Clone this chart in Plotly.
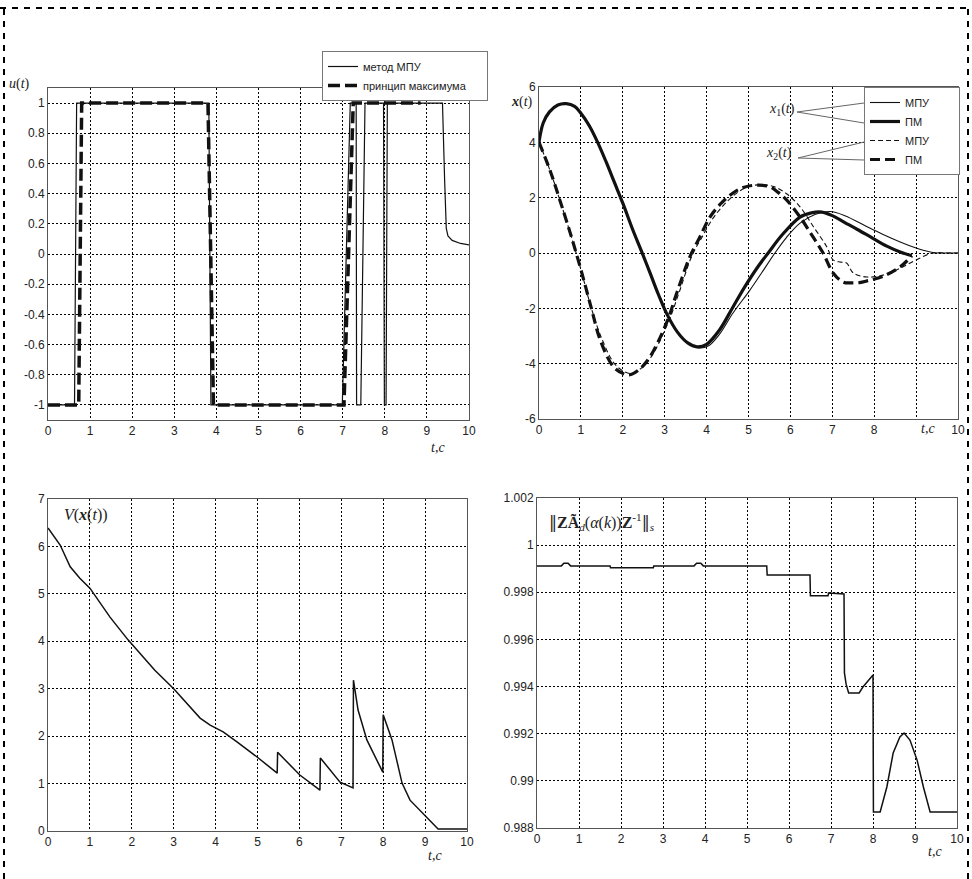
import plotly.graph_objects as go

W, H = 972, 879

# ---------------- data ----------------
# top-left: control u(t)
u_mpu_t = [0, 0.63, 0.68, 3.82, 3.87, 6.99, 7.18, 7.32, 7.33, 7.43, 7.53, 7.97, 7.99, 8.03, 8.06, 9.37, 9.42, 9.46, 9.5, 9.6, 9.8, 10]
u_mpu = [-1, -1, 1, 1, -1, -1, 1, 1, -1, -1, 1, 1, -1, -1, 1, 1, 0.5, 0.17, 0.12, 0.09, 0.07, 0.06]
u_pm_t = [0, 0.73, 0.8, 3.8, 3.93, 7.03, 7.25, 8.85]
u_pm = [-1, -1, 1, 1, -1, -1, 1, 1]

# top-right: states
x1_pm_t = [0, 0.1, 0.25, 0.45, 0.65, 0.85, 1.0, 1.2, 1.4, 1.6, 1.8, 2.0, 2.24, 2.45, 2.65, 2.85, 3.05, 3.3, 3.55, 3.77, 4.0, 4.3, 4.63, 4.9, 5.2, 5.47, 5.8, 6.23, 6.5, 6.75, 7.0, 7.3, 7.6, 7.97, 8.3, 8.62, 8.9]
x1_pm = [4.0, 4.7, 5.1, 5.35, 5.4, 5.3, 5.05, 4.6, 4.0, 3.3, 2.55, 1.8, 0.83, 0.05, -0.72, -1.5, -2.2, -2.85, -3.25, -3.39, -3.3, -2.8, -1.95, -1.25, -0.55, 0.0, 0.65, 1.3, 1.45, 1.48, 1.35, 1.1, 0.85, 0.53, 0.25, 0.04, -0.1]
x1_mpu_t = [0, 0.1, 0.25, 0.45, 0.65, 0.85, 1.0, 1.2, 1.4, 1.6, 1.8, 2.0, 2.24, 2.45, 2.65, 2.85, 3.05, 3.3, 3.55, 3.81, 4.05, 4.3, 4.63, 5.03, 5.3, 5.63, 5.9, 6.23, 6.6, 6.95, 7.3, 7.83, 8.2, 8.62, 9.0, 9.17, 9.4, 9.7, 10]
x1_mpu = [4.0, 4.7, 5.1, 5.35, 5.4, 5.3, 5.05, 4.6, 4.0, 3.3, 2.55, 1.8, 0.83, 0.05, -0.72, -1.5, -2.2, -2.85, -3.25, -3.43, -3.35, -2.95, -2.17, -1.35, -0.75, 0.0, 0.55, 1.08, 1.4, 1.5, 1.35, 0.95, 0.68, 0.4, 0.18, 0.1, 0.02, 0.0, 0.0]
x2_pm_t = [0, 0.26, 0.5, 0.75, 1.0, 1.25, 1.46, 1.77, 2.0, 2.17, 2.4, 2.65, 3.05, 3.29, 3.6, 3.84, 4.08, 4.35, 4.63, 4.9, 5.2, 5.5, 5.7, 5.92, 6.23, 6.54, 6.78, 7.02, 7.26, 7.45, 7.65, 7.85, 8.2, 8.62, 8.9]
x2_pm = [4.0, 3.0, 1.9, 0.7, -0.6, -2.0, -3.14, -4.1, -4.35, -4.4, -4.2, -3.75, -2.5, -1.44, -0.14, 0.58, 1.3, 1.8, 2.17, 2.38, 2.45, 2.4, 2.2, 1.9, 1.3, 0.58, 0.0, -0.72, -1.05, -1.08, -1.07, -1.0, -0.85, -0.5, -0.1]
x2_mpu_t = [0, 0.26, 0.5, 0.75, 1.0, 1.25, 1.5, 1.8, 2.05, 2.22, 2.45, 2.7, 3.1, 3.35, 3.65, 3.9, 4.15, 4.45, 4.75, 5.0, 5.3, 5.6, 5.9, 6.23, 6.55, 6.87, 7.02, 7.2, 7.34, 7.5, 7.83, 8.21, 8.62, 9.0, 9.4, 9.7, 10]
x2_mpu = [4.0, 3.0, 1.9, 0.7, -0.6, -2.0, -3.1, -4.0, -4.3, -4.35, -4.15, -3.7, -2.45, -1.4, -0.1, 0.6, 1.25, 1.8, 2.2, 2.4, 2.47, 2.4, 2.15, 1.67, 0.95, 0.22, -0.25, -0.33, -0.36, -0.72, -0.87, -0.8, -0.55, -0.25, 0.0, 0.0, 0.0]

# bottom-left: Lyapunov function V(x(t))
v_t = [0, 0.29, 0.53, 0.76, 1.0, 1.48, 1.91, 2.27, 2.55, 3.0, 3.3, 3.63, 3.87, 4.18, 4.51, 4.99, 5.47, 5.48, 6.01, 6.49, 6.5, 6.73, 6.97, 7.28, 7.29, 7.4, 7.61, 7.99, 8.0, 8.21, 8.45, 8.64, 8.95, 9.15, 9.31, 10]
v_val = [6.39, 6.03, 5.57, 5.33, 5.12, 4.51, 4.03, 3.67, 3.39, 3.0, 2.7, 2.38, 2.23, 2.09, 1.88, 1.56, 1.22, 1.66, 1.18, 0.86, 1.54, 1.29, 1.03, 0.91, 3.18, 2.55, 1.92, 1.24, 2.45, 1.92, 1.01, 0.65, 0.37, 0.17, 0.04, 0.04]

# bottom-right: spectral norm
n_t = [0, 0.58, 0.64, 0.74, 0.8, 1.74, 1.75, 2.77, 2.78, 3.74, 3.8, 3.9, 3.96, 5.47, 5.48, 6.5, 6.51, 6.93, 6.94, 7.21, 7.31, 7.32, 7.36, 7.42, 7.67, 7.76, 8.0, 8.01, 8.17, 8.33, 8.48, 8.64, 8.74, 8.88, 9.05, 9.2, 9.36, 10]
n_val = [0.99912, 0.99912, 0.99923, 0.99923, 0.99912, 0.99912, 0.99904, 0.99904, 0.99912, 0.99912, 0.99923, 0.99923, 0.99912, 0.99912, 0.99873, 0.99873, 0.99785, 0.99785, 0.99797, 0.99793, 0.99793, 0.99458, 0.9941, 0.99373, 0.99373, 0.99398, 0.99449, 0.98868, 0.98868, 0.98974, 0.99118, 0.99186, 0.99203, 0.99173, 0.99088, 0.98974, 0.98868, 0.98868]

# tick labels
x_ticks = list(range(0, 11))
x_labels = [str(v) for v in x_ticks]
x2_labels = ["0", "1", "2", "3", "4", "5", "6", "7", "8", "", "10"]
y1_ticks = [-1, -0.8, -0.6, -0.4, -0.2, 0, 0.2, 0.4, 0.6, 0.8, 1]
y1_labels = ["-1", "-0.8", "-0.6", "-0.4", "-0.2", "0", "0.2", "0.4", "0.6", "0.8", "1"]
y2_ticks = [-6, -4, -2, 0, 2, 4, 6]
y2_labels = ["-6", "-4", "-2", "0", "2", "4", "6"]
y3_ticks = [0, 1, 2, 3, 4, 5, 6, 7]
y4_ticks = [0.988, 0.990, 0.992, 0.994, 0.996, 0.998, 1.000, 1.002]
y4_labels = ["0.988", "0.99", "0.992", "0.994", "0.996", "0.998", "1", "1.002"]

# ---------------- figure ----------------
BLK = "#111111"
NB = "\u00a0"
fig = go.Figure()

fig.add_trace(go.Scatter(x=u_mpu_t, y=u_mpu, mode="lines", name="метод МПУ",
                         line=dict(color=BLK, width=1.2), xaxis="x", yaxis="y", legend="legend"))
fig.add_trace(go.Scatter(x=u_pm_t, y=u_pm, mode="lines", name="принцип максимума" + NB * 5,
                         line=dict(color=BLK, width=3.5, dash="12px,5px"), xaxis="x", yaxis="y", legend="legend"))

fig.add_trace(go.Scatter(x=x1_mpu_t, y=x1_mpu, mode="lines", name="МПУ" + NB * 8, line_shape="spline",
                         line=dict(color=BLK, width=1.1), xaxis="x2", yaxis="y2", legend="legend2"))
fig.add_trace(go.Scatter(x=x1_pm_t, y=x1_pm, mode="lines", name="ПМ", line_shape="spline",
                         line=dict(color=BLK, width=3.2), xaxis="x2", yaxis="y2", legend="legend2"))
fig.add_trace(go.Scatter(x=x2_mpu_t, y=x2_mpu, mode="lines", name="МПУ", line_shape="spline",
                         line=dict(color=BLK, width=1.1, dash="5px,3px"), xaxis="x2", yaxis="y2", legend="legend2"))
fig.add_trace(go.Scatter(x=x2_pm_t, y=x2_pm, mode="lines", name="ПМ", line_shape="spline",
                         line=dict(color=BLK, width=3.2, dash="10px,5px"), xaxis="x2", yaxis="y2", legend="legend2"))

fig.add_trace(go.Scatter(x=v_t, y=v_val, mode="lines", showlegend=False,
                         line=dict(color=BLK, width=1.5), xaxis="x3", yaxis="y3"))
fig.add_trace(go.Scatter(x=n_t, y=n_val, mode="lines", showlegend=False,
                         line=dict(color=BLK, width=1.5), xaxis="x4", yaxis="y4"))

tickfont = dict(family="Liberation Sans, Arial, sans-serif", size=12, color="#222")


def ax(domain, anchor, rng, tickvals, ticktext):
    return dict(domain=domain, anchor=anchor, range=rng, tickmode="array", tickvals=tickvals,
                ticktext=ticktext, automargin=False,
                showgrid=True, gridcolor="#000", griddash="2px,2px", gridwidth=1,
                showline=True, linecolor="#555", linewidth=1, mirror=True, zeroline=False,
                ticks="", tickfont=tickfont, fixedrange=True)


def px(x):
    return x / W


def py(y):
    return 1 - y / H


legfont = dict(family="Liberation Sans, Arial, sans-serif", size=11, color="#222")
fig.update_layout(
    width=W, height=H, margin=dict(l=0, r=0, t=0, b=0, pad=0, autoexpand=False),
    paper_bgcolor="white", plot_bgcolor="white",
    xaxis=ax([px(48), px(469)], "y", [0, 10], x_ticks, x_labels),
    yaxis=ax([py(420), py(88)], "x", [-1.1, 1.1], y1_ticks, y1_labels),
    xaxis2=ax([px(539), px(958)], "y2", [0, 10], x_ticks, x2_labels),
    yaxis2=ax([py(419), py(87)], "x2", [-6, 6], y2_ticks, y2_labels),
    xaxis3=ax([px(48), px(467)], "y3", [0, 10], x_ticks, x_labels),
    yaxis3=ax([py(831), py(499)], "x3", [0, 7], y3_ticks, [str(v) for v in y3_ticks]),
    xaxis4=ax([px(537), px(957)], "y4", [0, 10], x_ticks, x_labels),
    yaxis4=ax([py(828), py(498)], "x4", [0.988, 1.002], y4_ticks, y4_labels),
    legend=dict(x=px(322), y=py(51), xanchor="left", yanchor="top", bgcolor="white",
                bordercolor="#777", borderwidth=1, tracegroupgap=0, font=legfont),
    legend2=dict(x=px(864), y=py(87), xanchor="left", yanchor="top", bgcolor="white",
                 bordercolor="#777", borderwidth=1, tracegroupgap=0, font=legfont),
)

serif = dict(family="Liberation Serif, Times New Roman, serif", size=14, color="#222")
big = dict(family="Liberation Serif, DejaVu Serif, serif", size=16, color="#222")
ann = [
    ("<i>u</i>(<i>t</i>)", 19, 84, serif),
    ("<b><i>x</i></b>(<i>t</i>)", 522, 102, serif),
    ("<i>V</i>(<b><i>x</i></b>(<i>t</i>))", 86, 515, big),
    ("<span style='font-family:DejaVu Serif'>‖</span><b>ZÃ</b><sub><i>d</i></sub>(<i>α</i>(<i>k</i>))"
     "<b>Z</b><sup>-1</sup><span style='font-family:DejaVu Serif'>‖</span><sub><i>s</i></sub>", 602, 522, big),
    ("<i>x</i><sub>1</sub>(<i>t</i>)", 782, 110, serif),
    ("<i>x</i><sub>2</sub>(<i>t</i>)", 779, 153, serif),
    ("<i>t</i>,<i>c</i>", 438, 448, serif),
    ("<i>t</i>,<i>c</i>", 928, 428, serif),
    ("<i>t</i>,<i>c</i>", 435, 855, serif),
    ("<i>t</i>,<i>c</i>", 935, 851, serif),
]
for txt, x, y, f in ann:
    fig.add_annotation(text=txt, x=px(x), y=py(y), xref="paper", yref="paper",
                       showarrow=False, font=f, xanchor="center", yanchor="middle")

# pointer lines from x1/x2 labels to legend entries
pointers = [(797, 112, 864, 103), (797, 112, 864, 123), (798, 158, 864, 142), (798, 158, 864, 160)]
for x0, y0, x1, y1 in pointers:
    fig.add_shape(type="line", xref="paper", yref="paper", x0=px(x0), y0=py(y0), x1=px(x1), y1=py(y1),
                  line=dict(color="#666", width=1))

# dashed page border
border = dict(color="#000", width=2, dash="6px,6px")
fig.add_shape(type="line", xref="paper", yref="paper", x0=0, x1=1, y0=py(8), y1=py(8), line=border)
fig.add_shape(type="line", xref="paper", yref="paper", x0=px(4), x1=px(4), y0=0, y1=py(8), line=border)
fig.add_shape(type="line", xref="paper", yref="paper", x0=px(968), x1=px(968), y0=0, y1=py(8), line=border)

fig.write_html("out.html", config={"displayModeBar": False},
               post_script="document.body.style.margin='0';document.body.style.padding='0';"
                           "document.documentElement.style.overflow='hidden';")
